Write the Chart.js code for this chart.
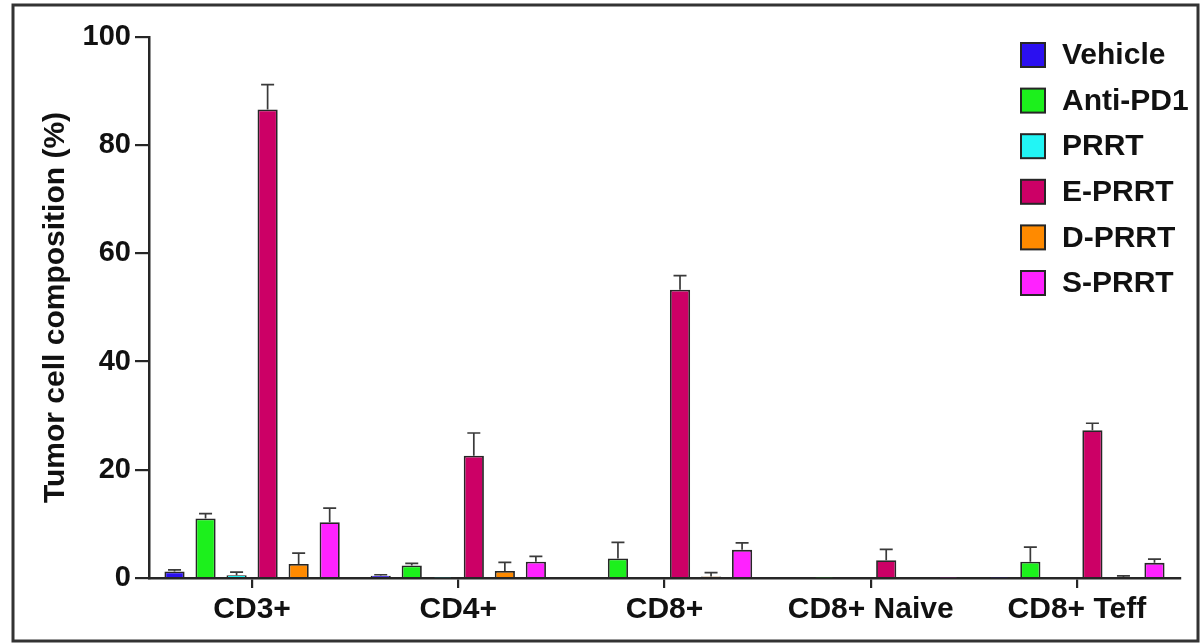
<!DOCTYPE html>
<html>
<head>
<meta charset="utf-8">
<script src="https://cdn.jsdelivr.net/npm/chart.js@4/dist/chart.umd.min.js"></script>
<style>
  html, body { margin: 0; padding: 0; background: #ffffff; }
  #wrap { width: 1203px; height: 644px; position: relative; }
</style>
</head>
<body>
<div id="wrap"><canvas id="c" width="1203" height="644"></canvas></div>
<script>
// T-cell subsets on the x axis
const categories = ['CD3+', 'CD4+', 'CD8+', 'CD8+ Naive', 'CD8+ Teff'];

// Treatment groups: mean (%) and upper error (SEM)
const groupNames = ['Vehicle', 'Anti-PD1', 'PRRT', 'E-PRRT', 'D-PRRT', 'S-PRRT'];

const vehicle     = [1.2, 0.4, 0.2, 0.0, 0.1];
const vehicleErr  = [0.3, 0.2, 0.0, 0.0, 0.0];
const antiPD1     = [11.0, 2.3, 3.6, 0.1, 3.0];
const antiPD1Err  = [0.9, 0.4, 3.0, 0.0, 2.7];
const prrt        = [0.5, 0.1, 0.0, 0.0, 0.0];
const prrtErr     = [0.6, 0.0, 0.0, 0.0, 0.0];
const ePRRT       = [86.6, 22.6, 53.3, 3.3, 27.3];
const ePRRTErr    = [4.6, 4.2, 2.6, 2.0, 1.3];
const dPRRT       = [2.6, 1.3, 0.3, 0.0, 0.2];
const dPRRTErr    = [2.0, 1.6, 0.7, 0.0, 0.2];
const sPRRT       = [10.3, 3.0, 5.2, 0.1, 2.8];
const sPRRTErr    = [2.6, 1.0, 1.3, 0.0, 0.7];

// y axis ticks
const yTicks = [0, 20, 40, 60, 80, 100];

const groupColors = ['#2b10f0', '#1cf01c', '#22f5f5', '#cc0066', '#ff8a00', '#ff22ff'];
const seriesValues = [vehicle, antiPD1, prrt, ePRRT, dPRRT, sPRRT];
const seriesErrors = [vehicleErr, antiPD1Err, prrtErr, ePRRTErr, dPRRTErr, sPRRTErr];

const INK = '#262626';
const FONT = '"Liberation Sans", Arial, Helvetica, sans-serif';

const datasets = groupNames.map((name, i) => ({
  label: name,
  data: seriesValues[i],
  errors: seriesErrors[i],
  backgroundColor: groupColors[i],
  borderColor: INK,
  borderWidth: 1.8,
  borderSkipped: 'start',
  categoryPercentage: 0.903,
  barPercentage: 0.65
}));

// Upper-only error bars with caps
const errorBars = {
  id: 'errorBars',
  afterDatasetsDraw(chart) {
    const ctx = chart.ctx;
    const y = chart.scales.y;
    ctx.save();
    ctx.strokeStyle = '#3a3a3a';
    ctx.lineWidth = 1.7;
    chart.data.datasets.forEach((ds, di) => {
      const meta = chart.getDatasetMeta(di);
      meta.data.forEach((bar, i) => {
        const err = ds.errors[i];
        if (!err) return;
        const top = y.getPixelForValue(ds.data[i] + err);
        const base = bar.y;
        ctx.beginPath();
        ctx.moveTo(bar.x, base);
        ctx.lineTo(bar.x, top);
        ctx.moveTo(bar.x - 6.5, top);
        ctx.lineTo(bar.x + 6.5, top);
        ctx.stroke();
      });
    });
    ctx.restore();
  }
};

// Legend boxes in the top-right corner, plus the outer frame
const sideLegend = {
  id: 'sideLegend',
  afterDraw(chart) {
    const ctx = chart.ctx;
    ctx.save();
    const boxX = 1021, textX = 1062, firstY = 55, step = 45.6, box = 24;
    ctx.font = 'bold 30px ' + FONT;
    ctx.textBaseline = 'middle';
    ctx.textAlign = 'left';
    chart.data.datasets.forEach((ds, i) => {
      const cy = firstY + i * step;
      ctx.fillStyle = ds.backgroundColor;
      ctx.fillRect(boxX, cy - box / 2, box, box);
      ctx.lineWidth = 2;
      ctx.strokeStyle = INK;
      ctx.strokeRect(boxX, cy - box / 2, box, box);
      ctx.fillStyle = '#111111';
      ctx.fillText(ds.label, textX, cy + 1);
    });
    ctx.lineWidth = 3;
    ctx.strokeStyle = '#333333';
    ctx.strokeRect(13, 5, 1185, 636);
    ctx.restore();
  }
};

new Chart(document.getElementById('c'), {
  type: 'bar',
  data: { labels: categories, datasets },
  options: {
    responsive: false,
    animation: false,
    devicePixelRatio: 1,
    layout: { padding: { top: 37, right: 23, left: 0, bottom: 0 } },
    plugins: {
      legend: { display: false },
      tooltip: { enabled: false }
    },
    scales: {
      x: {
        afterFit(scale) { scale.height = 66; },
        grid: {
          offset: false,
          drawOnChartArea: false,
          drawTicks: true,
          tickLength: 10,
          color: INK,
          lineWidth: 2.2
        },
        border: { display: true, color: INK, width: 2.5 },
        ticks: {
          color: '#111111',
          font: { family: FONT, size: 30, weight: 'bold' },
          padding: 4,
          maxRotation: 0,
          autoSkip: false
        }
      },
      y: {
        min: 0,
        max: 100,
        afterFit(scale) { scale.width = 149; },
        afterBuildTicks(scale) { scale.ticks = yTicks.map(v => ({ value: v })); },
        grid: {
          drawOnChartArea: false,
          drawTicks: true,
          tickLength: 14,
          color: INK,
          lineWidth: 2.2
        },
        border: { display: true, color: INK, width: 2.5 },
        ticks: {
          color: '#111111',
          font: { family: FONT, size: 29, weight: 'bold' },
          padding: 4
        },
        title: {
          display: true,
          text: 'Tumor cell composition (%)',
          color: '#111111',
          font: { family: FONT, size: 30, weight: 'bold' },
          padding: { top: 38, bottom: 0 }
        }
      }
    }
  },
  plugins: [errorBars, sideLegend]
});
</script>
</body>
</html>
